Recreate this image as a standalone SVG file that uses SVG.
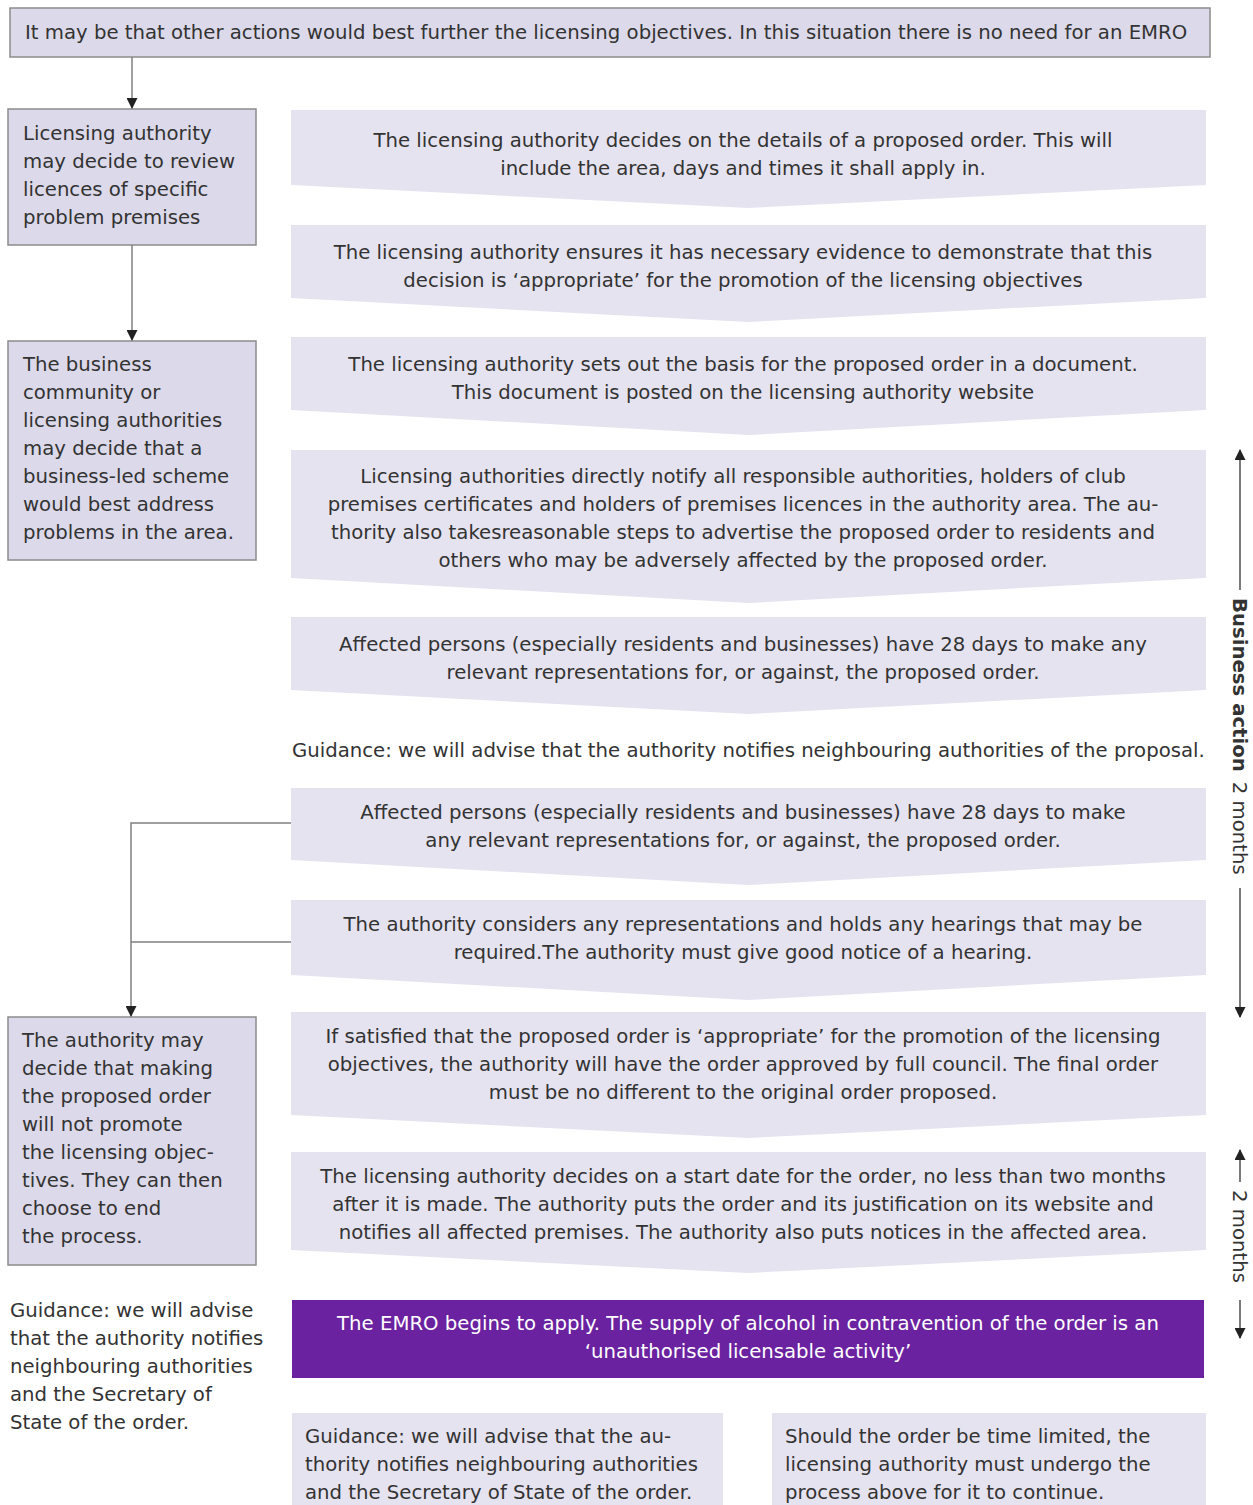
<svg xmlns="http://www.w3.org/2000/svg" width="1253" height="1505" viewBox="0 0 1253 1505">
<defs>
<style>
text{font-family:"DejaVu Sans","Liberation Sans",Arial,sans-serif;font-size:19.7px;fill:#333}
.c{text-anchor:middle}
.box{fill:#dcdaea;stroke:#8c8c8c;stroke-width:1.5}
.chev{fill:#e6e3f0}
.conn{stroke:#808080;stroke-width:1.5;fill:none}
.dim{stroke:#333;stroke-width:1.3;fill:none}
.w{fill:#fff}
</style>
<marker id="ah" viewBox="0 0 10 10" refX="9" refY="5" markerWidth="14" markerHeight="11" markerUnits="userSpaceOnUse" orient="auto"><path d="M0,0 L10,5 L0,10 z" fill="#222"/></marker>
<marker id="ah2" viewBox="0 0 10 10" refX="9" refY="5" markerWidth="15" markerHeight="11" markerUnits="userSpaceOnUse" orient="auto"><path d="M0,0 L10,5 L0,10 z" fill="#222"/></marker>
</defs>
<rect width="1253" height="1505" fill="#fff"/>

<g id="top">
<rect class="box" x="10" y="8" width="1200" height="49"/>
<text x="25" y="39">It may be that other actions would best further the licensing objectives. In this situation there is no need for an EMRO</text>
</g>

<g id="left1">
<rect class="box" x="8" y="109" width="248" height="136"/>
<text x="23" y="140">Licensing authority</text>
<text x="23" y="168">may decide to review</text>
<text x="23" y="196">licences of specific</text>
<text x="23" y="224">problem premises</text>
</g>

<g id="left2">
<rect class="box" x="8" y="341" width="248" height="219"/>
<text x="23" y="371">The business</text>
<text x="23" y="399">community or</text>
<text x="23" y="427">licensing authorities</text>
<text x="23" y="455">may decide that a</text>
<text x="23" y="483">business-led scheme</text>
<text x="23" y="511">would best address</text>
<text x="23" y="539">problems in the area.</text>
</g>

<g id="left3">
<rect class="box" x="8" y="1017" width="248" height="248"/>
<text x="22" y="1047">The authority may</text>
<text x="22" y="1075">decide that making</text>
<text x="22" y="1103">the proposed order</text>
<text x="22" y="1131">will not promote</text>
<text x="22" y="1159">the licensing objec-</text>
<text x="22" y="1187">tives. They can then</text>
<text x="22" y="1215">choose to end</text>
<text x="22" y="1243">the process.</text>
</g>

<g id="left-guidance">
<text x="10" y="1317">Guidance: we will advise</text>
<text x="10" y="1345">that the authority notifies</text>
<text x="10" y="1373">neighbouring authorities</text>
<text x="10" y="1401">and the Secretary of</text>
<text x="10" y="1429">State of the order.</text>
</g>

<g id="step1">
<path class="chev" d="M291,110 H1206 V185 L748,208 L291,185 Z"/>
<text class="c" x="743" y="147">The licensing authority decides on the details of a proposed order. This will</text>
<text class="c" x="743" y="175">include the area, days and times it shall apply in.</text>
</g>

<g id="step2">
<path class="chev" d="M291,225 H1206 V298 L748,322 L291,298 Z"/>
<text class="c" x="743" y="259">The licensing authority ensures it has necessary evidence to demonstrate that this</text>
<text class="c" x="743" y="287">decision is ‘appropriate’ for the promotion of the licensing objectives</text>
</g>

<g id="step3">
<path class="chev" d="M291,337 H1206 V410 L748,435 L291,410 Z"/>
<text class="c" x="743" y="371">The licensing authority sets out the basis for the proposed order in a document.</text>
<text class="c" x="743" y="399">This document is posted on the licensing authority website</text>
</g>

<g id="step4">
<path class="chev" d="M291,450 H1206 V578 L748,603 L291,578 Z"/>
<text class="c" x="743" y="483">Licensing authorities directly notify all responsible authorities, holders of club</text>
<text class="c" x="743" y="511">premises certificates and holders of premises licences in the authority area. The au-</text>
<text class="c" x="743" y="539">thority also takesreasonable steps to advertise the proposed order to residents and</text>
<text class="c" x="743" y="567">others who may be adversely affected by the proposed order.</text>
</g>

<g id="step5">
<path class="chev" d="M291,617 H1206 V690 L748,714 L291,690 Z"/>
<text class="c" x="743" y="651">Affected persons (especially residents and businesses) have 28 days to make any</text>
<text class="c" x="743" y="679">relevant representations for, or against, the proposed order.</text>
</g>

<g id="guidance-mid">
<text x="292" y="757">Guidance: we will advise that the authority notifies neighbouring authorities of the proposal.</text>
</g>

<g id="step6">
<path class="chev" d="M291,788 H1206 V860 L748,885 L291,860 Z"/>
<text class="c" x="743" y="819">Affected persons (especially residents and businesses) have 28 days to make</text>
<text class="c" x="743" y="847">any relevant representations for, or against, the proposed order.</text>
</g>

<g id="step7">
<path class="chev" d="M291,900 H1206 V975 L748,1000 L291,975 Z"/>
<text class="c" x="743" y="931">The authority considers any representations and holds any hearings that may be</text>
<text class="c" x="743" y="959">required.The authority must give good notice of a hearing.</text>
</g>

<g id="step8">
<path class="chev" d="M291,1012 H1206 V1115 L748,1138 L291,1115 Z"/>
<text class="c" x="743" y="1043">If satisfied that the proposed order is ‘appropriate’ for the promotion of the licensing</text>
<text class="c" x="743" y="1071">objectives, the authority will have the order approved by full council. The final order</text>
<text class="c" x="743" y="1099">must be no different to the original order proposed.</text>
</g>

<g id="step9">
<path class="chev" d="M291,1152 H1206 V1250 L748,1273 L291,1250 Z"/>
<text class="c" x="743" y="1183">The licensing authority decides on a start date for the order, no less than two months</text>
<text class="c" x="743" y="1211">after it is made. The authority puts the order and its justification on its website and</text>
<text class="c" x="743" y="1239">notifies all affected premises. The authority also puts notices in the affected area.</text>
</g>

<g id="emro">
<rect x="292" y="1300" width="912" height="78" fill="#6a22a0"/>
<text class="c w" x="748" y="1330">The EMRO begins to apply. The supply of alcohol in contravention of the order is an</text>
<text class="c w" x="748" y="1358">‘unauthorised licensable activity’</text>
</g>

<g id="bottom-guidance">
<rect x="292" y="1413" width="431" height="92" fill="#e6e3f0"/>
<text x="305" y="1443">Guidance: we will advise that the au-</text>
<text x="305" y="1471">thority notifies neighbouring authorities</text>
<text x="305" y="1499">and the Secretary of State of the order.</text>
</g>

<g id="bottom-timelimited">
<rect x="772" y="1413" width="434" height="92" fill="#e6e3f0"/>
<text x="785" y="1443">Should the order be time limited, the</text>
<text x="785" y="1471">licensing authority must undergo the</text>
<text x="785" y="1499">process above for it to continue.</text>
</g>

<g id="connectors">
<line class="conn" x1="132" y1="57" x2="132" y2="108" marker-end="url(#ah)"/>
<line class="conn" x1="132" y1="245" x2="132" y2="340" marker-end="url(#ah)"/>
<polyline class="conn" points="291,823 131,823 131,1016" marker-end="url(#ah)"/>
<line class="conn" x1="291" y1="942" x2="131" y2="942"/>
</g>

<g id="timeline-business">
<line class="dim" x1="1240" y1="590" x2="1240" y2="450" marker-end="url(#ah2)"/>
<line class="dim" x1="1240" y1="888" x2="1240" y2="1017" marker-end="url(#ah2)"/>
<text transform="translate(1233,598) rotate(90)" font-size="18"><tspan font-weight="bold">Business action</tspan><tspan dx="10">2 months</tspan></text>
</g>

<g id="timeline-2months">
<line class="dim" x1="1240" y1="1182" x2="1240" y2="1150" marker-end="url(#ah2)"/>
<line class="dim" x1="1240" y1="1300" x2="1240" y2="1338" marker-end="url(#ah2)"/>
<text transform="translate(1233,1190) rotate(90)" font-size="18">2 months</text>
</g>
</svg>
